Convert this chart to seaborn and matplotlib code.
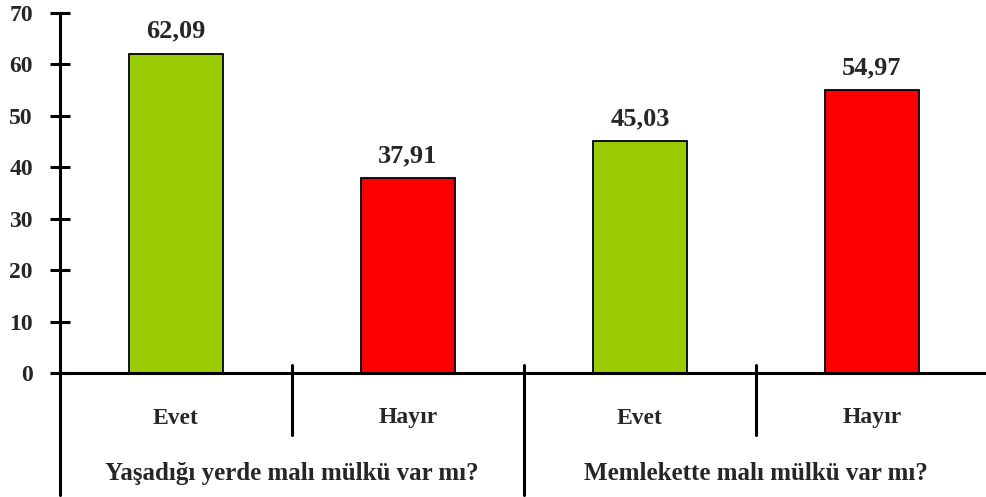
import matplotlib
matplotlib.use("Agg")
import matplotlib.pyplot as plt
import matplotlib.transforms as mtransforms
import pandas as pd
import seaborn as sns

# Chart data
questions = ["Yaşadığı yerde malı mülkü var mı?", "Memlekette malı mülkü var mı?"]
answers = ["Evet", "Hayır", "Evet", "Hayır"]
values = [62.09, 37.91, 45.03, 54.97]
y_ticks = [0, 10, 20, 30, 40, 50, 60, 70]

df = pd.DataFrame({
    "bar": [f"{q}|{a}" for q in questions for a in ["Evet", "Hayır"]],
    "cevap": answers,
    "oran": values,
})

sns.set_style("white")
plt.rcParams["font.family"] = ["Liberation Serif", "DejaVu Serif"]
plt.rcParams["font.weight"] = "bold"

fig = plt.figure(figsize=(9.86, 4.97), dpi=100)
ax = fig.add_axes([60 / 986, 124 / 497, 928 / 986, 360 / 497])

sns.barplot(data=df, x="bar", y="oran", hue="cevap",
            palette={"Evet": "#99CC00", "Hayır": "#FF0000"}, saturation=1,
            dodge=False, width=0.405, edgecolor="black", linewidth=1.3,
            legend=False, ax=ax)

for cont in ax.containers:
    ax.bar_label(cont, labels=[f"{b.get_height():.2f}".replace(".", ",") for b in cont],
                 padding=8, fontsize=19, fontweight="bold")

ax.set_xlim(-0.5, 3.5)
ax.set_ylim(0, 70)
ax.set_yticks(y_ticks)
ax.set_yticklabels([str(t) for t in y_ticks], fontsize=17, fontweight="bold")
ax.set_xticks([])
ax.set_xlabel("")
ax.set_ylabel("")

for s in ["top", "right"]:
    ax.spines[s].set_visible(False)
for s in ["left", "bottom"]:
    ax.spines[s].set_linewidth(2.2)
    ax.spines[s].set_color("black")
ax.tick_params(axis="y", left=True, direction="inout", length=15, width=2.2, pad=12,
               color="black")

# two-level category axis
trans = mtransforms.blended_transform_factory(ax.transData, ax.transAxes)
ax.plot([-0.5, -0.5], [0, -0.34], transform=trans, color="black", lw=2.2, clip_on=False)
for x in [0.5, 2.5]:
    ax.plot([x, x], [0.022, -0.172], transform=trans, color="black", lw=2.2, clip_on=False)
ax.plot([1.5, 1.5], [0.022, -0.34], transform=trans, color="black", lw=2.2, clip_on=False)

for i, a in enumerate(answers):
    ax.text(i, -0.125, a, transform=trans, ha="center", va="center",
            fontsize=17, fontweight="bold")
for j, q in enumerate(questions):
    ax.text(j * 2 + 0.5, -0.28, q, transform=trans, ha="center", va="center",
            fontsize=18, fontweight="bold")

fig.savefig("out.png", dpi=100)
